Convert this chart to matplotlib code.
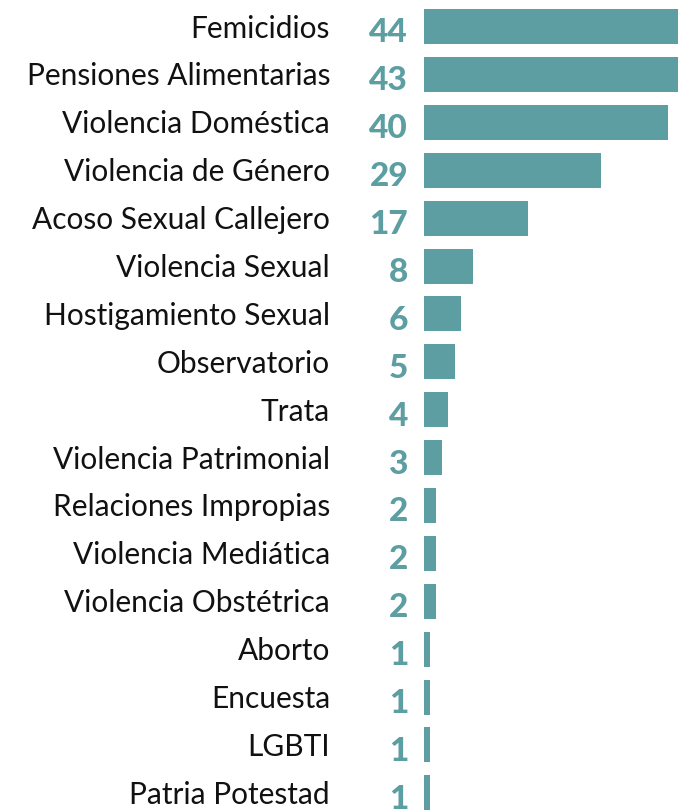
import matplotlib
matplotlib.use("Agg")
import matplotlib.pyplot as plt
from matplotlib.transforms import offset_copy

categorias = ["Femicidios", "Pensiones Alimentarias", "Violencia Doméstica",
              "Violencia de Género", "Acoso Sexual Callejero", "Violencia Sexual",
              "Hostigamiento Sexual", "Observatorio", "Trata",
              "Violencia Patrimonial", "Relaciones Impropias", "Violencia Mediática",
              "Violencia Obstétrica", "Aborto", "Encuesta", "LGBTI", "Patria Potestad"]
valores = [44, 43, 40, 29, 17, 8, 6, 5, 4, 3, 2, 2, 2, 1, 1, 1, 1]

teal = "#5c9ea2"
W, H = 678, 810
fig = plt.figure(figsize=(W / 100, H / 100), dpi=100)

# axes: x=0 at 424px, 6.1 px per unit; rows every 47.9 px, first centre at 26.5 px
px_unit = 6.1
row = 47.9
ax = fig.add_axes([424 / W, 0, 1 - 424 / W, 1])
ax.barh(range(len(valores)), valores, height=35 / row, color=teal)
ax.set_xlim(0, (W - 424) / px_unit)
ax.set_ylim((H - 26.5) / row, -26.5 / row)
ax.axis("off")

# baselines sit a bit below the bar centre (labels 11px, numbers 16px)
lab_tr = offset_copy(ax.transData, fig=fig, x=0, y=-11 * 0.72, units="points")
num_tr = offset_copy(ax.transData, fig=fig, x=0, y=-16 * 0.72, units="points")
for i, (c, v) in enumerate(zip(categorias, valores)):
    ax.text(-(424 - 330) / px_unit, i, c, transform=lab_tr, ha="right",
            va="baseline", fontsize=21.5, family="Lato", color="#111111", clip_on=False)
    ax.text(-(424 - 408) / px_unit, i, str(v), transform=num_tr, ha="right",
            va="baseline", fontsize=24, family="Lato", weight="black",
            color=teal, clip_on=False)

fig.savefig("out.png", dpi=100)
